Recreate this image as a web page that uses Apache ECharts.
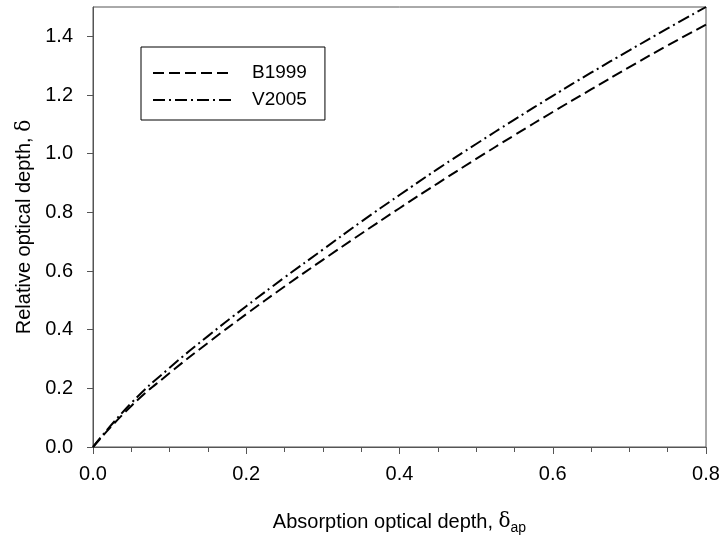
<!DOCTYPE html>
<html lang="en">
<head>
    <meta charset="UTF-8">
    <title>optical depth</title>
    <script src="https://cdn.jsdelivr.net/npm/echarts@6/dist/echarts.min.js"></script>
    <style>
        html, body { margin: 0; padding: 0; background: #fff; }
    </style>
</head>
<body>
    <div id="main" style="width: 723px; height: 537px"></div>
<script>
    // absorption optical depth (x) and the two curves
    const xs    = [0, 0.05, 0.1, 0.15, 0.2, 0.25, 0.3, 0.35, 0.4, 0.45, 0.5, 0.55, 0.6, 0.65, 0.7, 0.75, 0.8]
    const b1999 = [0, 0.14, 0.252, 0.355, 0.453, 0.547, 0.638, 0.727, 0.814, 0.899, 0.982, 1.063, 1.142, 1.219, 1.295, 1.369, 1.44]
    const v2005 = [0, 0.15, 0.27, 0.378, 0.48, 0.578, 0.673, 0.768, 0.859, 0.948, 1.033, 1.116, 1.197, 1.276, 1.352, 1.427, 1.5]
    const seriesNames = ['B1999', 'V2005']

    const font = '"Liberation Sans", Arial, sans-serif'
    const axisGrey = '#555'
    const pairs = (ys) => xs.map((x, i) => [x, ys[i]])

    let option = {
        backgroundColor: '#fff',
        animation: false,
        textStyle: { fontFamily: font },
        grid: {
            left: 93, right: 17, top: 7, bottom: 90,
            containLabel: false, outerBoundsMode: 'none',
            show: true, borderColor: axisGrey, borderWidth: 1
        },
        legend: {
            orient: 'vertical',
            left: 141, top: 47,
            data: seriesNames,
            borderColor: '#000', borderWidth: 1,
            padding: [16, 18, 10, 11],
            itemWidth: 78, itemHeight: 14, itemGap: 7,
            itemStyle: { opacity: 0 },
            textStyle: { fontFamily: font, fontSize: 19, lineHeight: 20, color: '#000', padding: [0, 0, 0, 16] }
        },
        xAxis: {
            type: 'value',
            min: 0, max: 0.8, interval: 0.2,
            name: 'Absorption optical depth, {d|δ}{sub|ap}',
            nameLocation: 'middle', nameGap: 62,
            nameTextStyle: {
                fontFamily: font, fontSize: 20, color: '#000',
                rich: {
                    d: { fontFamily: 'DejaVu Serif', fontSize: 20, color: '#000' },
                    sub: { fontFamily: font, fontSize: 14, color: '#000', padding: [12, 0, 0, 0] }
                }
            },
            axisLine: { show: true, onZero: false, lineStyle: { color: axisGrey, width: 1 } },
            axisTick: { show: true, inside: false, length: 7, lineStyle: { color: axisGrey } },
            minorTick: { show: true, splitNumber: 4, length: 5, lineStyle: { color: axisGrey } },
            splitLine: { show: false },
            axisLabel: { color: '#000', fontSize: 20, fontFamily: font, margin: 17, formatter: v => v.toFixed(1) }
        },
        yAxis: {
            type: 'value',
            min: 0, max: 1.5, interval: 0.2,
            name: 'Relative optical depth, {d|δ}',
            nameLocation: 'middle', nameGap: 58,
            nameTextStyle: {
                fontFamily: font, fontSize: 20, color: '#000',
                rich: { d: { fontFamily: 'DejaVu Serif', fontSize: 20, color: '#000' } }
            },
            axisLine: { show: true, onZero: false, lineStyle: { color: axisGrey, width: 1 } },
            axisTick: { show: true, inside: false, length: 6, lineStyle: { color: axisGrey } },
            splitLine: { show: false },
            axisLabel: {
                color: '#000', fontSize: 20, fontFamily: font, margin: 20,
                formatter: v => (Math.abs(v - 1.5) < 1e-6 ? '' : v.toFixed(1)),
                showMaxLabel: false
            }
        },
        series: [
            {
                name: seriesNames[0], type: 'line', data: pairs(b1999),
                smooth: true, symbol: 'none', showSymbol: false,
                lineStyle: { color: '#000', width: 2, type: [11, 5] },
                itemStyle: { color: '#000' }
            },
            {
                name: seriesNames[1], type: 'line', data: pairs(v2005),
                smooth: true, symbol: 'none', showSymbol: false,
                lineStyle: { color: '#000', width: 2, type: [12, 4, 2, 4] },
                itemStyle: { color: '#000' }
            }
        ]
    }

    let myChart = echarts.init(document.getElementById('main'), null, { renderer: 'canvas' })
    myChart.setOption(option)
</script>
</body>
</html>
